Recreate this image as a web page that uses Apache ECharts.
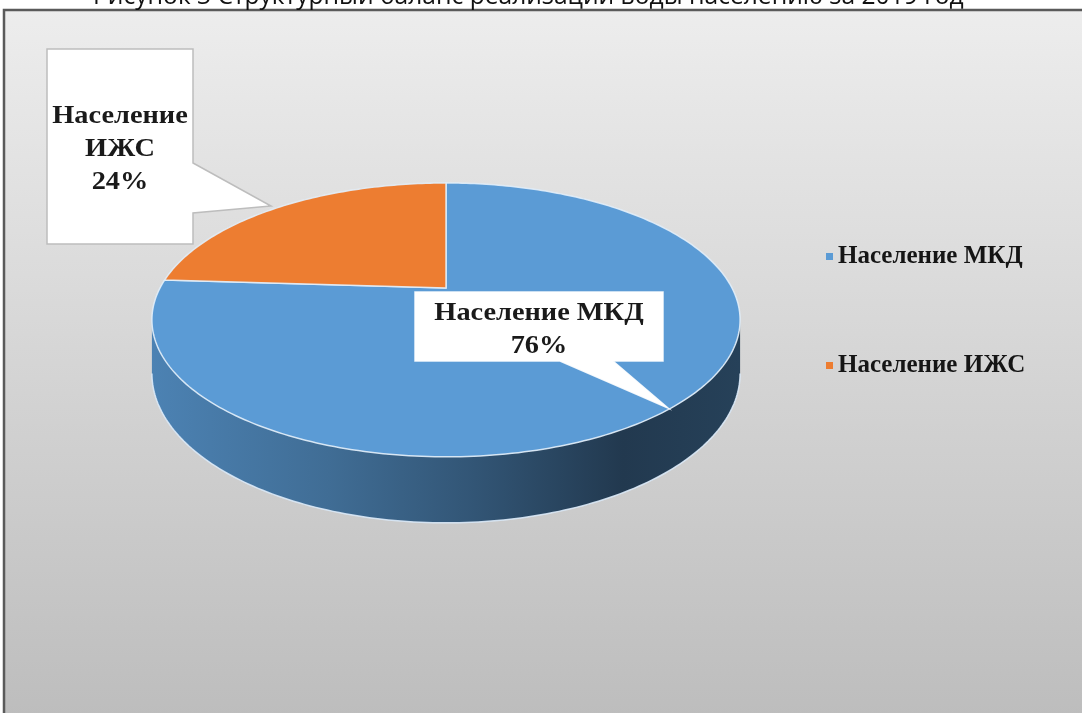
<!DOCTYPE html>
<html>
<head>
<meta charset="utf-8">
<script src="https://cdn.jsdelivr.net/npm/echarts@6/dist/echarts.min.js"></script>
<style>
  html, body { margin: 0; padding: 0; background: #fff; }
  #chart { width: 1082px; height: 713px; }
</style>
</head>
<body>
<div id="chart"></div>
<script>
const caption = 'Рисунок 3 Структурный баланс реализации воды населению за 2019 год';
const categories = ['Население МКД', 'Население ИЖС'];
const shares = [76, 24];
const colors = ['#5b9bd5', '#ed7d31'];

// callout boxes (layout only), one per category
const callouts = [
  {
    outline: [[415, 292], [663, 292], [663, 361], [613, 361], [668, 408], [560, 361], [415, 361]],
    textAt: [539, 330], wrap: false
  },
  {
    outline: [[47, 49], [193, 49], [193, 163], [271, 206], [193, 213], [193, 244], [47, 244]],
    textAt: [120, 149], wrap: true
  }
];

// tilted pie: top face center, radii, perspective factor, thickness
const CX = 446, CY = 288, R = 286, RY = 129.5, K = 0.233, DEPTH = 50.6;
const START = 90;

const total = shares.reduce((a, b) => a + b, 0);
const cum = [0];
shares.forEach((v, i) => cum.push(cum[i] + v));

function proj(deg, down) {
  const t = deg * Math.PI / 180;
  const u = Math.cos(t), v = Math.sin(t);
  const w = 1 + K * v;
  return [CX + R * u / w, CY - RY * v / w + (down || 0) / w];
}
function arc(a0, a1, down) {
  const pts = [];
  const n = Math.max(2, Math.ceil(Math.abs(a1 - a0)));
  for (let i = 0; i <= n; i++) pts.push(proj(a0 + (a1 - a0) * i / n, down));
  return pts;
}
function shade(hex, f) {
  const n = parseInt(hex.slice(1), 16);
  const c = [(n >> 16) & 255, (n >> 8) & 255, n & 255].map(x => Math.round(x * f));
  return 'rgb(' + c.join(',') + ')';
}

// visible front part of the rim, in the same clockwise angle space
const edge = Math.asin(K) * 180 / Math.PI;
const FRONT = [-180 + edge, -edge];

function renderSlice(params, api) {
  const i = params.seriesIndex;
  const a0 = START - cum[i] / total * 360;
  const a1 = START - (cum[i] + api.value(0)) / total * 360;
  const color = colors[i];
  const children = [];

  [0, -360].forEach(shift => {
    const s0 = Math.min(a0, FRONT[1] + shift);
    const s1 = Math.max(a1, FRONT[0] + shift);
    if (s0 <= s1) return;
    const fill = new echarts.graphic.LinearGradient(CX - R * 1.03, 0, CX + R * 1.03, 0, [
      { offset: 0, color: shade(color, 0.84) },
      { offset: 0.3, color: shade(color, 0.7) },
      { offset: 0.55, color: shade(color, 0.55) },
      { offset: 0.8, color: shade(color, 0.37) },
      { offset: 1, color: shade(color, 0.42) }
    ], true);
    children.push({
      type: 'polygon',
      shape: { points: arc(s0, s1, 0).concat(arc(s1, s0, DEPTH)) },
      style: { fill: fill }
    });
    children.push({
      type: 'polyline',
      shape: { points: arc(s0, s1, DEPTH) },
      style: { stroke: 'rgba(220,234,248,0.9)', lineWidth: 1.5, fill: null }
    });
  });

  children.push({
    type: 'polygon',
    shape: { points: [[CX, CY]].concat(arc(a0, a1, 0)) },
    style: { fill: color, stroke: 'rgba(226,238,250,0.9)', lineWidth: 1.5 }
  });
  return { type: 'group', children: children };
}

const labelGraphics = [];
callouts.forEach((c, i) => {
  const pct = Math.round(shares[i] / total * 100);
  const name = c.wrap ? categories[i].replace(' ', '\n') : categories[i];
  labelGraphics.push({
    type: 'polygon',
    z: 100,
    shape: { points: c.outline },
    style: { fill: '#ffffff', stroke: i === 1 ? '#bdbdbd' : 'rgba(255,255,255,0.9)', lineWidth: 1.5 }
  });
  labelGraphics.push({
    type: 'text',
    z: 101,
    x: c.textAt[0], y: c.textAt[1],
    scaleX: 1.09,
    style: {
      text: name + '\n' + pct + '%',
      x: 0, y: 0,
      align: 'center', verticalAlign: 'middle',
      font: 'bold 26px "Liberation Serif"', lineHeight: 33,
      fill: '#1a1a1a'
    }
  });
});

const chart = echarts.init(document.getElementById('chart'));
chart.setOption({
  backgroundColor: '#ffffff',
  animation: false,
  legend: {
    orient: 'vertical',
    left: 821,
    top: 239,
    itemGap: 84,
    icon: 'rect',
    itemWidth: 7,
    itemHeight: 7,
    data: categories,
    textStyle: { fontFamily: 'Liberation Serif', fontWeight: 'bold', fontSize: 25, color: '#151515' }
  },
  graphic: [
    {
      type: 'rect',
      z: -10,
      shape: { x: 4, y: 10, width: 1100, height: 720 },
      style: {
        fill: new echarts.graphic.LinearGradient(0, 0, 0, 1, [
          { offset: 0, color: '#ededed' },
          { offset: 1, color: '#bcbcbc' }
        ]),
        stroke: '#5a5a5a', lineWidth: 2.5
      }
    },
    {
      type: 'text',
      z: 100,
      style: {
        text: caption, x: 93, y: -3,
        align: 'left', verticalAlign: 'middle',
        font: '24.6px "Open Sans"', fill: '#111'
      }
    }
  ].concat(labelGraphics),
  series: categories.map((name, i) => ({
    type: 'custom',
    name: name,
    coordinateSystem: 'none',
    itemStyle: { color: colors[i] },
    renderItem: renderSlice,
    data: [[shares[i]]]
  }))
});
</script>
</body>
</html>
